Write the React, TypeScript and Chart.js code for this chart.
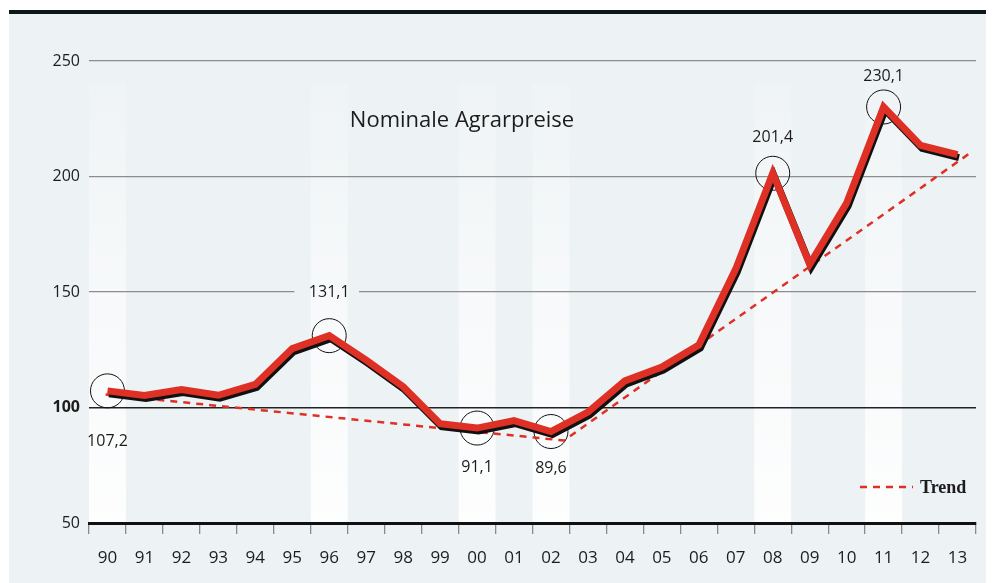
import React, { useEffect, useRef } from "react";
import { Chart, registerables } from "chart.js";

Chart.register(...registerables);

// ---- data ----
const years = ["90","91","92","93","94","95","96","97","98","99","00","01","02","03","04","05","06","07","08","09","10","11","12","13"];
const prices = [107.2,105.2,107.8,105.3,110,125.5,131.1,120.5,109,93,91.1,94.3,89.6,98,111.5,117.5,127,160,201.4,162,188.5,230.1,213.5,209.5];
const highlightYears = ["90","96","00","02","08","11"];
const trendX = [-0.05, 12.35, 23.3];
const trendY = [105.6, 85.7, 209.7];
const yTicks = [50, 100, 150, 200, 250];
const titleText = "Nominale Agrarpreise";
const legendText = "Trend";

// ---- styles ----
const BG = "#edf2f4";
const RED = "#df3026";
const INK = "#1c1c1c";
const FONT = "'Open Sans', sans-serif";
const labelOffsets: Record<string, number> = { "90": 51, "96": -43, "00": 39, "02": 37, "08": -36, "11": -31 };

function fmt(v: number) {
  return v.toFixed(1).replace(".", ",");
}

function drawBands(chart: any) {
  const { ctx, chartArea: a } = chart;
  const xs = chart.scales.x;
  const half = (xs.right - xs.left) / years.length / 2;
  const top = a.top + 22;
  const g = ctx.createLinearGradient(0, top, 0, a.bottom);
  g.addColorStop(0, "rgba(255,255,255,0.12)");
  g.addColorStop(0.35, "rgba(255,255,255,0.45)");
  g.addColorStop(1, "rgba(255,255,255,0.9)");
  ctx.fillStyle = g;
  highlightYears.forEach((y) => {
    const cx = xs.getPixelForValue(years.indexOf(y));
    ctx.fillRect(cx - half, top, half * 2, a.bottom - top);
  });
}

const decor = {
  id: "decor",
  beforeDraw(chart: any) {
    const { ctx, width, height } = chart;
    ctx.save();
    ctx.fillStyle = "#ffffff";
    ctx.fillRect(0, 0, width, height);
    ctx.fillStyle = BG;
    ctx.fillRect(1, 6, width - 1, height - 6);
    ctx.fillStyle = "#0e1619";
    ctx.fillRect(1, 2, width - 1, 4);
    drawBands(chart);
    ctx.restore();
  },
  beforeDatasetsDraw(chart: any) {
    // break the 150 gridline around the 96 label
    const { ctx } = chart;
    const xs = chart.scales.x;
    const ys = chart.scales.y;
    const cx = xs.getPixelForValue(years.indexOf("96"));
    const y150 = ys.getPixelForValue(150);
    ctx.save();
    ctx.beginPath();
    ctx.rect(cx - 35, y150 - 2, 65, 4);
    ctx.clip();
    ctx.fillStyle = BG;
    ctx.fillRect(cx - 35, y150 - 2, 65, 4);
    drawBands(chart);
    ctx.restore();
  },
  beforeDatasetDraw(chart: any, args: any) {
    if (args.index === 0) {
      const ctx = chart.ctx;
      ctx.save();
      ctx.shadowColor = "#111111";
      ctx.shadowOffsetX = 1.5;
      ctx.shadowOffsetY = 3;
      ctx.shadowBlur = 0;
    }
  },
  afterDatasetDraw(chart: any, args: any) {
    if (args.index === 0) chart.ctx.restore();
  },
  afterDatasetsDraw(chart: any) {
    const { ctx } = chart;
    const meta = chart.getDatasetMeta(0);
    ctx.save();
    ctx.fillStyle = INK;
    ctx.font = `16px ${FONT}`;
    ctx.textAlign = "center";
    ctx.textBaseline = "middle";
    highlightYears.forEach((y) => {
      const i = years.indexOf(y);
      const pt = meta.data[i];
      ctx.fillText(fmt(prices[i]), pt.x, pt.y + labelOffsets[y]);
    });
    // title
    ctx.font = `22px ${FONT}`;
    ctx.textBaseline = "alphabetic";
    ctx.fillText(titleText, 454, 119);
    // legend
    ctx.strokeStyle = RED;
    ctx.lineWidth = 2.6;
    ctx.setLineDash([7, 6]);
    ctx.beginPath();
    ctx.moveTo(852, 479);
    ctx.lineTo(905, 479);
    ctx.stroke();
    ctx.setLineDash([]);
    ctx.textAlign = "left";
    ctx.font = "bold 18px 'Liberation Serif', serif";
    ctx.fillStyle = INK;
    ctx.fillText(legendText, 912, 485);
    ctx.restore();
  },
};

export default function App() {
  const ref = useRef<HTMLCanvasElement | null>(null);
  useEffect(() => {
    if (!ref.current) return;
    const chart = new Chart(ref.current, {
      type: "line",
      data: {
        labels: years,
        datasets: [
          {
            label: "Nominale Agrarpreise",
            data: prices,
            borderColor: RED,
            borderWidth: 7,
            borderJoinStyle: "miter",
            borderCapStyle: "butt",
            pointRadius: 0,
            tension: 0,
            order: 1,
          } as any,
          {
            label: legendText,
            data: trendX.map((x, i) => ({ x, y: trendY[i] })),
            xAxisID: "x2",
            borderColor: RED,
            borderWidth: 2.5,
            borderDash: [7, 6],
            pointRadius: 0,
            tension: 0,
            order: 2,
          } as any,
          {
            label: "markers",
            data: prices.map((v, i) => (highlightYears.includes(years[i]) ? v : null)),
            showLine: false,
            pointRadius: 17,
            pointHoverRadius: 17,
            pointBorderColor: "#111111",
            pointBorderWidth: 1,
            pointBackgroundColor: "rgba(0,0,0,0)",
            order: 3,
          } as any,
        ],
      },
      options: {
        responsive: false,
        animation: false,
        events: [],
        layout: { padding: { top: 53, right: 14, left: 0, bottom: 0 } },
        plugins: { legend: { display: false }, tooltip: { enabled: false }, title: { display: false } },
        scales: {
          x: {
            type: "category",
            offset: true,
            afterFit: (s: any) => { s.height = 60; },
            border: { display: true, color: "#111111", width: 3 },
            grid: {
              display: true,
              offset: true,
              drawOnChartArea: false,
              drawTicks: true,
              tickLength: 11,
              color: "#8a8a8a",
              lineWidth: 1.3,
            },
            ticks: { color: INK, font: { size: 17, family: FONT }, padding: 14, maxRotation: 0, autoSkip: false },
          },
          x2: {
            type: "linear",
            display: false,
            min: -0.5,
            max: years.length - 0.5,
          },
          y: {
            type: "linear",
            min: yTicks[0],
            max: yTicks[yTicks.length - 1],
            afterFit: (s: any) => { s.width = 81; },
            afterBuildTicks: (s: any) => { s.ticks = yTicks.map((v) => ({ value: v })); },
            border: { display: false },
            grid: {
              drawTicks: false,
              color: (c: any) => (c.tick && c.tick.value === 100 ? "#222222" : c.tick && c.tick.value === 50 ? "rgba(0,0,0,0)" : "#8d8d8d"),
              lineWidth: (c: any) => (c.tick && c.tick.value === 100 ? 1.6 : 1.3),
            },
            ticks: {
              color: INK,
              padding: 9,
              font: (c: any) => ({ size: 16, family: FONT, weight: c.tick && c.tick.value === 100 ? "bold" : "normal" }),
            },
          },
        },
      },
      plugins: [decor],
    } as any);
    return () => chart.destroy();
  }, []);
  return <canvas ref={ref} width={986} height={575} style={{ display: "block" }} />;
}
